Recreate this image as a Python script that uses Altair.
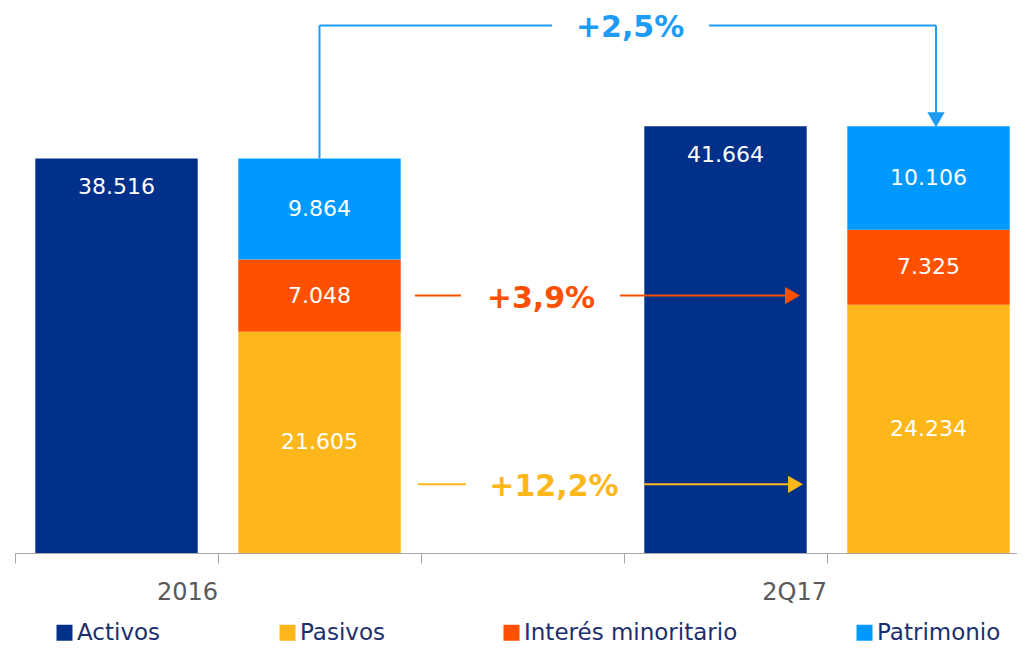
import altair as alt
import pandas as pd

# ---- data ----
periods = ["2016", "2Q17"]
series = ["Activos", "Pasivos", "Interés minoritario", "Patrimonio"]
activos = [38516, 41664]
pasivos = [21605, 24234]
interes = [7048, 7325]
patrimonio = [9864, 10106]
colors = ["#00308A", "#FDB71A", "#FF5000", "#0099FF"]

slots = ["Activos 2016", "Balance 2016", "sep", "Activos 2Q17", "Balance 2Q17"]

def fmt(v):
    return f"{v:,}".replace(",", ".")

def pct(a, b):
    return "+" + f"{(b / a - 1) * 100:.1f}".replace(".", ",") + "%"

rows = []
for i, p in enumerate(periods):
    rows.append(dict(slot=f"Activos {p}", series="Activos", y0=0, y1=activos[i],
                     label=fmt(activos[i])))
    base = 0
    for s, vals in [("Pasivos", pasivos), ("Interés minoritario", interes),
                    ("Patrimonio", patrimonio)]:
        rows.append(dict(slot=f"Balance {p}", series=s, y0=base, y1=base + vals[i],
                         label=fmt(vals[i])))
        base += vals[i]
bar_df = pd.DataFrame(rows)
bar_df["ymid"] = (bar_df["y0"] + bar_df["y1"]) / 2

top16 = pasivos[0] + interes[0] + patrimonio[0]
y_blue = 51500
y_orange = pasivos[0] + interes[0] / 2
y_yellow = 6700
c_blue, c_orange, c_yellow = "#1E9BF5", "#FF5000", "#FDB71A"

rule_df = pd.DataFrame([
    dict(x=1.5, x2=1.5, y=top16, y2=y_blue, c=c_blue),
    dict(x=1.5, x2=2.645, y=y_blue, y2=y_blue, c=c_blue),
    dict(x=3.419, x2=4.537, y=y_blue, y2=y_blue, c=c_blue),
    dict(x=4.537, x2=4.537, y=y_blue, y2=42600, c=c_blue),
    dict(x=1.97, x2=2.197, y=y_orange, y2=y_orange, c=c_orange),
    dict(x=2.98, x2=3.82, y=y_orange, y2=y_orange, c=c_orange),
    dict(x=1.985, x2=2.222, y=y_yellow, y2=y_yellow, c=c_yellow),
    dict(x=3.099, x2=3.835, y=y_yellow, y2=y_yellow, c=c_yellow),
])
head_df = pd.DataFrame([
    dict(x=4.537, y=42300, c=c_blue, shape="triangle-down"),
    dict(x=3.83, y=y_orange, c=c_orange, shape="triangle-right"),
    dict(x=3.845, y=y_yellow, c=c_yellow, shape="triangle-right"),
])
pct_df = pd.DataFrame([
    dict(x=3.03, y=y_blue, c=c_blue, t=pct(patrimonio[0], patrimonio[1])),
    dict(x=2.591, y=y_orange, c=c_orange, t=pct(interes[0], interes[1])),
    dict(x=2.655, y=y_yellow, c=c_yellow, t=pct(pasivos[0], pasivos[1])),
])
year_df = pd.DataFrame(dict(x=[1, 4], t=periods))

# ---- scales ----
yscale = alt.Scale(domain=[0, 53200], nice=False, zero=True)
xband = alt.Scale(domain=slots, range=[0, 1015], paddingInner=0.2, paddingOuter=0.1)
xq = alt.Scale(domain=[0, 5], range=[0, 1015], nice=False, zero=False)

bars = alt.Chart(bar_df).mark_bar().encode(
    x=alt.X("slot:N", scale=xband, sort=None, axis=None),
    y=alt.Y("y1:Q", scale=yscale, axis=None),
    y2="y0:Q",
    color=alt.Color("series:N", scale=alt.Scale(domain=series, range=colors),
                    legend=alt.Legend(title=None, orient="none", legendX=38, legendY=613,
                                      direction="horizontal", symbolType="square",
                                      symbolSize=256, symbolStrokeWidth=0, padding=0,
                                      labelFontSize=23, labelFont="DejaVu Sans",
                                      labelColor="#1B2F6E", labelLimit=400,
                                      columnPadding=115, labelOffset=1)),
)

seg_labels = alt.Chart(bar_df[bar_df.series != "Activos"]).mark_text(
    font="DejaVu Sans", fontSize=22, color="white", baseline="middle").encode(
    x=alt.X("slot:N", scale=xband, sort=None, axis=None),
    y=alt.Y("ymid:Q", scale=yscale, axis=None),
    text="label:N",
)
act_labels = alt.Chart(bar_df[bar_df.series == "Activos"]).mark_text(
    font="DejaVu Sans", fontSize=22, color="white", baseline="middle", dy=29).encode(
    x=alt.X("slot:N", scale=xband, sort=None, axis=None),
    y=alt.Y("y1:Q", scale=yscale, axis=None),
    text="label:N",
)

rules = alt.Chart(rule_df).mark_rule(strokeWidth=2).encode(
    x=alt.X("x:Q", scale=xq,
            axis=alt.Axis(orient="bottom", title=None, labels=False, grid=False,
                          values=[0, 1, 2, 3, 4, 5], domainColor="#A6A6A6",
                          tickColor="#A6A6A6", tickSize=10, domainWidth=1, tickWidth=1)),
    x2="x2:Q",
    y=alt.Y("y:Q", scale=yscale, axis=None), y2="y2:Q",
    color=alt.Color("c:N", scale=None),
)
heads = alt.Chart(head_df).mark_point(filled=True, size=300, opacity=1, strokeWidth=0).encode(
    x=alt.X("x:Q", scale=xq, axis=None),
    y=alt.Y("y:Q", scale=yscale, axis=None),
    shape=alt.Shape("shape:N", scale=None),
    color=alt.Color("c:N", scale=None),
)
pct_text = alt.Chart(pct_df).mark_text(font="DejaVu Sans", fontSize=30, fontWeight="bold",
                                       baseline="middle", dy=3).encode(
    x=alt.X("x:Q", scale=xq, axis=None),
    y=alt.Y("y:Q", scale=yscale, axis=None),
    text="t:N",
    color=alt.Color("c:N", scale=None),
)
years = alt.Chart(year_df).mark_text(font="DejaVu Sans", fontSize=24, color="#595959",
                                     align="right", baseline="middle").encode(
    x=alt.X("x:Q", scale=xq, axis=None),
    y=alt.value(585),
    text="t:N",
)

chart = alt.layer(bars, seg_labels, act_labels, rules, heads, pct_text, years).resolve_scale(
    x="independent"
).properties(
    width=1002, height=545,
    padding={"left": 7, "top": 0, "right": 0, "bottom": 95},
    autosize=alt.AutoSizeParams(type="none"),
).configure_view(stroke=None)

chart.save("out.html", embed_options={"renderer": "svg", "actions": False})
